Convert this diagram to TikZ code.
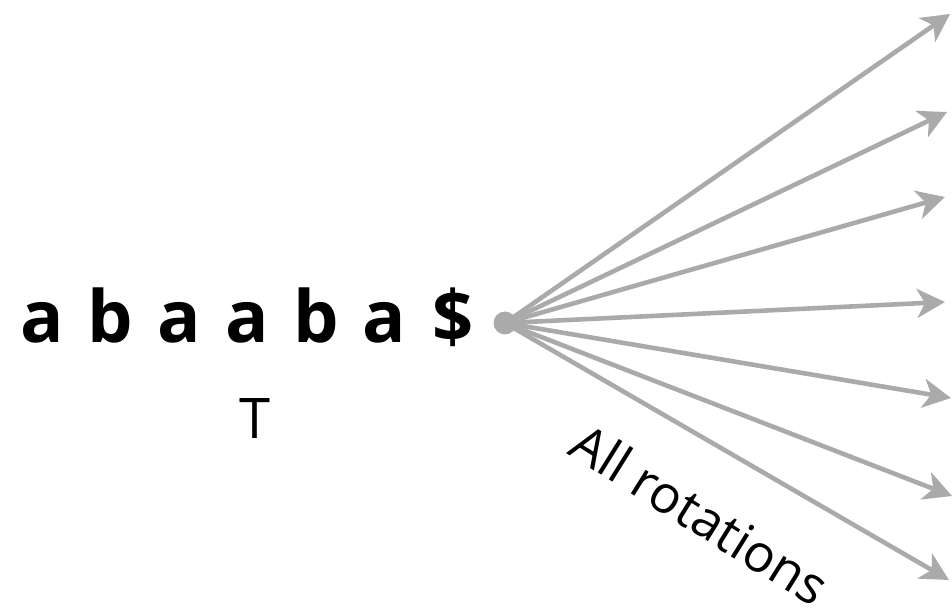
\documentclass[tikz,border=0pt]{standalone}
\usepackage{fontspec}
\setmainfont{Open Sans}
\usetikzlibrary{arrows.meta}
\definecolor{rotgray}{HTML}{AAAAAA}
\begin{document}
\begin{tikzpicture}[x=1pt,y=1pt,
  letter/.style={font=\fontsize{72}{80}\selectfont\bfseries, inner sep=0pt, anchor=base},
  rotarrow/.style={draw=rotgray, line width=4.6pt, -{Stealth[length=28pt,width=29pt,inset=8pt]}}]
\useasboundingbox (0,0) rectangle (952,608);
% the text and its name
\foreach \ch [count=\i from 0] in {a,b,a,a,b,a,\$}
  \node[letter] (c\i) at ({42+68.5*\i},265) {\ch};
\node[font=\fontsize{56}{64}\selectfont, inner sep=0pt, anchor=base] (tname) at (255,170) {T};
% fan of rotations
\node[circle, fill=rotgray, inner sep=0pt, minimum size=23pt] (src) at (505,285) {};
\coordinate (r1) at (950,594);
\coordinate (r2) at (947,496);
\coordinate (r3) at (945,411);
\coordinate (r4) at (945,306);
\coordinate (r5) at (951,210);
\coordinate (r6) at (952,112);
\coordinate (r7) at (949,28);
\foreach \k in {1,...,7}
  \draw[rotarrow] (src.center) -- (r\k);
\node[font=\fontsize{52}{60}\selectfont, rotate=-32, inner sep=0pt] (rlabel) at (700,94) {All rotations};
\end{tikzpicture}
\end{document}
